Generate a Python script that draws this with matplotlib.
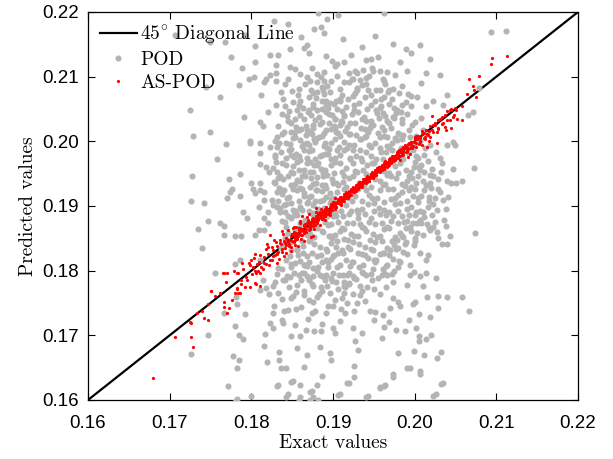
import numpy as np
import matplotlib
matplotlib.use("Agg")
import matplotlib.pyplot as plt

# ---------------- data (exact, predicted) ----------------
axis_limits = [0.16, 0.22]
tick_values = [0.16, 0.17, 0.18, 0.19, 0.20, 0.21, 0.22]
tick_labels = ["0.16", "0.17", "0.18", "0.19", "0.20", "0.21", "0.22"]

pod_upper = [
    (0.1707,0.2164),(0.1749,0.2154),(0.1768,0.2153),(0.1804,0.2147),(0.1823,0.2133),(0.1833,0.2134),
    (0.1847,0.2143),(0.1864,0.2144),(0.1868,0.2149),(0.1877,0.2173),(0.1885,0.2177),(0.1889,0.2168),
    (0.1871,0.2136),(0.1892,0.2132),(0.1905,0.2119),(0.1830,0.2118),(0.1847,0.2115),(0.1830,0.2106),
    (0.1830,0.2094),(0.1823,0.2102),(0.1818,0.2097),(0.1816,0.2091),(0.1803,0.2099),(0.1797,0.2097),
    (0.1785,0.2087),(0.1872,0.2094),(0.1880,0.2092),(0.1885,0.2099),(0.1889,0.2107),(0.1886,0.2084),
    (0.1888,0.2080),(0.1875,0.2074),(0.1860,0.2062),(0.1858,0.2056),(0.1875,0.2058),(0.1887,0.2062),
    (0.1892,0.2062),(0.1880,0.2048),(0.1894,0.2051),(0.1904,0.2063),(0.1870,0.2048),(0.1873,0.2041),
    (0.1895,0.2042),(0.1902,0.2035),(0.1830,0.2056),(0.1820,0.2046),(0.1844,0.2039),(0.1791,0.2038),
    (0.1725,0.2049),(0.1811,0.2030),(0.1814,0.2023),(0.1831,0.2007),(0.1840,0.2014),(0.1848,0.2015),
    (0.1853,0.2014),(0.1858,0.2017),(0.1867,0.2024),(0.1868,0.2017),(0.1875,0.2020),(0.1880,0.2005),
    (0.1892,0.2017),(0.1902,0.2020),(0.1904,0.2014),(0.1728,0.2008),(0.1829,0.2000),(0.1798,0.2000),
    (0.1882,0.2198),
    (0.1963,0.2198),(0.2094,0.2169),(0.2112,0.2170),(0.2006,0.2149),(0.1995,0.2137),(0.1955,0.2130),
    (0.1946,0.2127),(0.1941,0.2126),(0.1913,0.2123),(0.1982,0.2122),(0.1937,0.2110),(0.1929,0.2106),
    (0.1957,0.2109),(0.1966,0.2107),(0.2014,0.2105),(0.1925,0.2096),(0.1920,0.2091),(0.1940,0.2098),
    (0.1935,0.2087),(0.1929,0.2082),(0.1927,0.2075),(0.1943,0.2079),(0.1953,0.2080),(0.1964,0.2088),
    (0.1968,0.2080),(0.1974,0.2081),(0.1981,0.2075),(0.1963,0.2069),(0.1996,0.2070),(0.2003,0.2069),
    (0.2040,0.2071),(0.1909,0.2063),(0.1968,0.2058),(0.1957,0.2052),(0.1984,0.2056),(0.2014,0.2055),
    (0.1926,0.2048),(0.1914,0.2041),(0.1954,0.2044),(0.1977,0.2044),(0.1983,0.2045),(0.1936,0.2034),
    (0.1966,0.2031),(0.1975,0.2036),(0.2079,0.2082),(0.2071,0.2045),(0.2065,0.2040),(0.1949,0.2025),
    (0.1960,0.2022),(0.1945,0.2020),(0.1917,0.2022),(0.1911,0.2030),(0.1919,0.2012),(0.1941,0.2009),
    (0.1933,0.2004),(0.1966,0.2007),(0.1976,0.2005),(0.1986,0.2010),(0.2002,0.2009),(0.2047,0.1999),
]

pod_middle = [
    (0.1727,0.1947),(0.1726,0.1907),(0.1742,0.1905),(0.1747,0.1877),(0.1735,0.1865),(0.1739,0.1835),
    (0.1762,0.1873),(0.1767,0.1869),(0.1766,0.1855),(0.1780,0.1853),(0.1770,0.1912),(0.1774,0.1921),
    (0.1776,0.1926),(0.1773,0.1941),(0.1786,0.1949),(0.1786,0.1915),(0.1790,0.1890),(0.1795,0.1881),
    (0.1800,0.1936),(0.1802,0.1927),(0.1805,0.1920),(0.1811,0.1936),(0.1811,0.1925),(0.1798,0.1997),
    (0.1811,0.1997),(0.1811,0.1982),(0.1811,0.1965),(0.1818,0.1961),(0.1823,0.1991),(0.1829,0.1979),
    (0.1834,0.1998),(0.1847,0.1996),(0.1822,0.1952),(0.1829,0.1935),(0.1835,0.1926),(0.1840,0.1924),
    (0.1833,0.1943),(0.1815,0.1921),(0.1815,0.1910),(0.1825,0.1910),(0.1826,0.1902),(0.1809,0.1899),
    (0.1820,0.1891),(0.1831,0.1899),(0.1840,0.1902),(0.1835,0.1891),(0.1816,0.1881),(0.1821,0.1873),
    (0.1809,0.1863),(0.1805,0.1855),(0.1815,0.1863),(0.1787,0.1853),(0.1786,0.1816),(0.1780,0.1811),
    (0.1811,0.1816),(0.1849,0.1979),(0.1855,0.1981),(0.1860,0.1971),(0.1868,0.1966),(0.1851,0.1951),
    (0.1856,0.1940),(0.1864,0.1948),(0.1872,0.1953),(0.1880,0.1945),(0.1888,0.1951),(0.1880,0.1963),
    (0.1886,0.1979),(0.1894,0.1981),(0.1905,0.1987),(0.1868,0.1997),(0.1878,0.1999),(0.1890,0.1997),
    (0.1856,0.1925),(0.1864,0.1920),(0.1872,0.1930),(0.1880,0.1925),(0.1890,0.1933),(0.1900,0.1935),
    (0.1896,0.1920),(0.1888,0.1909),(0.1878,0.1907),(0.1868,0.1904),(0.1860,0.1899),(0.1851,0.1894),
    (0.1845,0.1884),(0.1841,0.1876),(0.1876,0.1889),(0.1894,0.1871),(0.1900,0.1884),(0.1888,0.1860),
    (0.1898,0.1853),(0.1904,0.1837),(0.1900,0.1822),(0.1892,0.1816),(0.1880,0.1822),(0.1868,0.1822),
    (0.1864,0.1809),(0.1882,0.1806),(0.1833,0.1804),(0.1849,0.1811),(0.1856,0.1832),(0.1872,0.1847),
    (0.2073,0.1959),(0.2058,0.1938),(0.2051,0.1935),(0.2044,0.1935),(0.2039,0.1938),(0.2047,0.1957),
    (0.2031,0.1922),(0.2041,0.1914),(0.2035,0.1910),(0.2019,0.1935),(0.2018,0.1914),(0.2005,0.1961),
    (0.1999,0.1960),(0.2002,0.1935),(0.1996,0.1930),(0.2027,0.1894),(0.2038,0.1895),(0.2021,0.1886),
    (0.2002,0.1891),(0.2007,0.1878),(0.2003,0.1873),(0.1990,0.1877),(0.2019,0.1863),(0.2036,0.1878),
    (0.2038,0.1869),(0.2043,0.1853),(0.2027,0.1860),(0.2029,0.1850),(0.2034,0.1842),(0.2040,0.1842),
    (0.2074,0.1859),(0.2000,0.1850),(0.1984,0.1853),(0.1978,0.1848),(0.2007,0.1827),(0.2016,0.1824),
    (0.2014,0.1816),(0.1994,0.1809),(0.1980,0.1835),(0.1970,0.1832),(0.1961,0.1828),(0.1950,0.1816),
    (0.1966,0.1809),(0.1980,0.1806),(0.2039,0.1994),(0.2049,0.1994),
]

pod_lower = [
    (0.1917,0.1793),(0.1925,0.1791),(0.1913,0.1783),(0.1919,0.1780),(0.1915,0.1775),(0.1937,0.1797),
    (0.1960,0.1793),(0.1966,0.1793),(0.1972,0.1795),(0.1973,0.1783),(0.1994,0.1793),(0.1999,0.1798),
    (0.2006,0.1792),(0.2014,0.1796),(0.2026,0.1788),(0.2010,0.1776),(0.1991,0.1778),(0.1965,0.1774),
    (0.1950,0.1771),(0.1935,0.1769),(0.1933,0.1762),(0.1958,0.1764),(0.1974,0.1757),(0.1980,0.1752),
    (0.1982,0.1745),(0.1998,0.1749),(0.2000,0.1752),(0.2015,0.1760),(0.2029,0.1761),(0.2039,0.1760),
    (0.2058,0.1759),(0.2028,0.1743),(0.2066,0.1737),(0.1970,0.1743),(0.1929,0.1750),(0.1917,0.1750),
    (0.1915,0.1734),(0.1926,0.1737),(0.1945,0.1738),(0.1951,0.1736),(0.1961,0.1732),(0.1950,0.1724),
    (0.1968,0.1720),(0.1962,0.1713),(0.1993,0.1724),(0.2005,0.1733),(0.2019,0.1729),(0.2002,0.1711),
    (0.1988,0.1707),(0.1977,0.1708),(0.2005,0.1699),(0.2005,0.1691),(0.2014,0.1695),(0.2020,0.1700),
    (0.1925,0.1712),(0.1936,0.1704),(0.1927,0.1691),(0.1960,0.1696),(0.1931,0.1677),(0.1979,0.1673),
    (0.1999,0.1676),(0.2012,0.1669),(0.2027,0.1665),(0.2032,0.1675),(0.1926,0.1653),(0.1990,0.1650),
    (0.1994,0.1649),(0.2007,0.1645),(0.2006,0.1640),(0.1974,0.1640),(0.1974,0.1635),(0.1926,0.1636),
    (0.1920,0.1627),(0.1964,0.1623),(0.1958,0.1620),(0.2035,0.1626),(0.1943,0.1606),(0.2026,0.1609),
    (0.1909,0.1610),
    (0.1756,0.1796),(0.1781,0.1760),(0.1783,0.1748),(0.1766,0.1735),(0.1792,0.1733),(0.1747,0.1700),
    (0.1780,0.1714),(0.1785,0.1700),(0.1790,0.1695),(0.1726,0.1671),(0.1777,0.1668),(0.1785,0.1662),
    (0.1783,0.1649),(0.1771,0.1622),(0.1782,0.1601),(0.1800,0.1606),(0.1814,0.1786),(0.1811,0.1770),
    (0.1818,0.1773),(0.1826,0.1735),(0.1840,0.1737),(0.1823,0.1719),(0.1827,0.1712),(0.1839,0.1719),
    (0.1817,0.1702),(0.1815,0.1683),(0.1819,0.1659),(0.1834,0.1675),(0.1834,0.1662),(0.1836,0.1649),
    (0.1843,0.1649),(0.1833,0.1623),(0.1851,0.1629),(0.1859,0.1623),(0.1845,0.1609),(0.1860,0.1605),
    (0.1874,0.1614),(0.1880,0.1623),(0.1875,0.1605),(0.1886,0.1637),(0.1864,0.1651),(0.1868,0.1670),
    (0.1856,0.1680),(0.1849,0.1699),(0.1859,0.1699),(0.1867,0.1709),(0.1877,0.1707),(0.1885,0.1707),
    (0.1884,0.1682),(0.1896,0.1673),(0.1898,0.1662),(0.1900,0.1711),(0.1902,0.1704),(0.1892,0.1735),
    (0.1874,0.1735),(0.1900,0.1745),(0.1864,0.1762),(0.1851,0.1761),(0.1883,0.1764),(0.1855,0.1740),
    (0.1876,0.1752),(0.1839,0.1786),(0.1847,0.1790),(0.1858,0.1793),(0.1868,0.1791),(0.1875,0.1792),
    (0.1887,0.1791),(0.1893,0.1776),(0.1900,0.1796),(0.1904,0.1783),(0.1864,0.1796),(0.1874,0.1780),
    (0.1780,0.1597),(0.1831,0.1621),(0.1842,0.1604),(0.1849,0.1628),(0.1858,0.1600),(0.1872,0.1600),
    (0.1872,0.1613),(0.1882,0.1600),(0.1906,0.1608),(0.1917,0.1626),(0.1941,0.1604),(0.1957,0.1618),
    (0.1962,0.1622),(0.2023,0.1606),(0.2032,0.1625),
]

pod_center = [
    (0.1863,0.2052),(0.1879,0.2067),(0.1896,0.2059),(0.1908,0.2065),(0.1916,0.2053),(0.1932,0.2060),
    (0.1947,0.2056),(0.1959,0.2066),(0.1924,0.2070),(0.1886,0.2050),
    (0.1854,0.2034),(0.1869,0.2046),(0.1883,0.2038),(0.1899,0.2040),(0.1910,0.2032),(0.1923,0.2043),
    (0.1938,0.2037),(0.1953,0.2049),(0.1964,0.2039),(0.1978,0.2048),(0.1846,0.2047),(0.1905,0.2050),
    (0.1848,0.2028),(0.1861,0.2019),(0.1876,0.2026),(0.1889,0.2013),(0.1901,0.2024),(0.1915,0.2016),
    (0.1927,0.2029),(0.1939,0.2019),(0.1955,0.2013),(0.1971,0.2021),(0.1984,0.2028),(0.1993,0.2018),
    (0.1895,0.2029),
    (0.1859,0.2002),(0.1871,0.1994),(0.1883,0.2006),(0.1897,0.1998),(0.1909,0.2009),(0.1920,0.1995),
    (0.1934,0.2003),(0.1946,0.1991),(0.1958,0.2006),(0.1972,0.1997),(0.1985,0.2004),(0.1999,0.1996),
    (0.1867,0.2010),(0.1917,0.1989),
    (0.1836,0.1984),(0.1852,0.1976),(0.1864,0.1987),(0.1878,0.1973),(0.1890,0.1981),(0.1903,0.1975),
    (0.1914,0.1986),(0.1928,0.1978),(0.1941,0.1984),(0.1953,0.1972),(0.1965,0.1983),(0.1979,0.1976),
    (0.1992,0.1982),(0.2004,0.1974),(0.1936,0.1969),
    (0.1843,0.1964),(0.1858,0.1955),(0.1872,0.1968),(0.1885,0.1957),(0.1898,0.1964),(0.1911,0.1953),
    (0.1925,0.1966),(0.1937,0.1956),(0.1950,0.1967),(0.1963,0.1954),(0.1976,0.1962),(0.1989,0.1956),
    (0.2001,0.1968),(0.2012,0.1953),(0.1832,0.1952),
    (0.1839,0.1941),(0.1853,0.1934),(0.1866,0.1946),(0.1879,0.1936),(0.1893,0.1948),(0.1906,0.1933),
    (0.1919,0.1944),(0.1932,0.1935),(0.1945,0.1947),(0.1958,0.1939),(0.1971,0.1946),(0.1984,0.1934),
    (0.1997,0.1943),(0.2010,0.1938),(0.2023,0.1946),
    (0.1831,0.1922),(0.1846,0.1914),(0.1859,0.1928),(0.1873,0.1916),(0.1887,0.1923),(0.1901,0.1912),
    (0.1914,0.1927),(0.1927,0.1915),(0.1940,0.1924),(0.1954,0.1913),(0.1967,0.1926),(0.1980,0.1917),
    (0.1993,0.1924),(0.2008,0.1916),(0.2020,0.1928),
    (0.1842,0.1903),(0.1855,0.1892),(0.1869,0.1906),(0.1882,0.1895),(0.1896,0.1904),(0.1910,0.1893),
    (0.1923,0.1907),(0.1936,0.1896),(0.1950,0.1905),(0.1963,0.1894),(0.1976,0.1903),(0.1990,0.1896),
    (0.2004,0.1906),(0.2016,0.1899),(0.1930,0.1889),
    (0.1849,0.1882),(0.1862,0.1874),(0.1876,0.1886),(0.1890,0.1876),(0.1904,0.1884),(0.1917,0.1873),
    (0.1931,0.1881),(0.1944,0.1875),(0.1957,0.1887),(0.1971,0.1877),(0.1984,0.1884),(0.1998,0.1873),
    (0.2012,0.1883),(0.2025,0.1876),
    (0.1854,0.1863),(0.1868,0.1855),(0.1881,0.1866),(0.1895,0.1854),(0.1908,0.1862),(0.1922,0.1856),
    (0.1935,0.1868),(0.1949,0.1857),(0.1962,0.1864),(0.1976,0.1852),(0.1989,0.1866),(0.2003,0.1858),
    (0.2018,0.1866),(0.1914,0.1849),
    (0.1840,0.1842),(0.1856,0.1834),(0.1870,0.1846),(0.1884,0.1836),(0.1897,0.1843),(0.1911,0.1832),
    (0.1925,0.1845),(0.1939,0.1837),(0.1952,0.1844),(0.1966,0.1835),(0.1988,0.1841),(0.1999,0.1839),
    (0.1847,0.1823),(0.1860,0.1815),(0.1874,0.1827),(0.1887,0.1814),(0.1901,0.1824),(0.1916,0.1816),
    (0.1930,0.1828),(0.1943,0.1819),(0.1957,0.1826),(0.1973,0.1818),(0.1986,0.1829),
    (0.1838,0.1802),(0.1852,0.1796),(0.1866,0.1808),(0.1880,0.1799),(0.1894,0.1805),(0.1907,0.1794),
    (0.1921,0.1807),(0.1936,0.1798),(0.1949,0.1803),(0.1963,0.1796),
    (0.1829,0.1783),(0.1846,0.1774),(0.1861,0.1786),(0.1875,0.1776),(0.1890,0.1785),(0.1906,0.1772),
    (0.1920,0.1781),(0.1933,0.1777),(0.1948,0.1786),
    (0.1822,0.1764),(0.1838,0.1756),(0.1855,0.1767),(0.1870,0.1755),(0.1887,0.1768),(0.1903,0.1754),
    (0.1914,0.1766),(0.1939,0.1753),
    (0.1850,0.2078),(0.1866,0.2089),(0.1881,0.2076),(0.1897,0.2093),(0.1909,0.2081),(0.1919,0.2106),
    (0.1933,0.2095),(0.1949,0.2108),(0.1961,0.2096),(0.1976,0.2102),(0.1859,0.2104),(0.1874,0.2113),
    (0.1899,0.2125),(0.1922,0.2134),(0.1936,0.2146),(0.1912,0.2158),(0.1951,0.2163),(0.1893,0.2189),
    (0.1906,0.2196),(0.1845,0.2182),(0.1974,0.2151),(0.1989,0.2143),(0.2019,0.2128),(0.2031,0.2102),
    (0.1991,0.2109),(0.2008,0.2090),(0.2022,0.2063),(0.2035,0.2056),(0.1812,0.2071),(0.1804,0.2122),
    (0.1788,0.2114),(0.1775,0.2131),(0.1762,0.2068),(0.1749,0.2015),(0.1758,0.1973),(0.1769,0.1996),
    (0.1744,0.2084),(0.1792,0.2165),(0.1828,0.2186),(0.1861,0.2161),
]

pod_core = [
    (0.1853,0.2112),(0.1881,0.2104),(0.1902,0.2117),(0.1927,0.2109),(0.1948,0.2113),
    (0.1841,0.2088),(0.1858,0.2081),(0.1893,0.2086),(0.1914,0.2092),(0.1941,0.2089),(0.1958,0.2079),
    (0.1985,0.2086),
    (0.1839,0.2066),(0.1851,0.2061),(0.1870,0.2069),(0.1889,0.2073),(0.1901,0.2058),(0.1918,0.2066),
    (0.1939,0.2068),(0.1951,0.2062),(0.1972,0.2066),(0.1989,0.2061),
    (0.1838,0.2043),(0.1859,0.2040),(0.1878,0.2033),(0.1892,0.2046),(0.1913,0.2039),(0.1930,0.2045),
    (0.1946,0.2032),(0.1961,0.2044),(0.1973,0.2038),(0.1990,0.2043),(0.2008,0.2036),
    (0.1833,0.2023),(0.1855,0.2022),(0.1872,0.2015),(0.1884,0.2027),(0.1897,0.2019),(0.1908,0.2026),
    (0.1921,0.2012),(0.1934,0.2021),(0.1947,0.2026),(0.1962,0.2017),(0.1979,0.2013),(0.1997,0.2025),
    (0.2010,0.2018),
    (0.1842,0.1998),(0.1853,0.2007),(0.1865,0.1996),(0.1877,0.2003),(0.1889,0.1993),(0.1902,0.2004),
    (0.1913,0.1999),(0.1926,0.1994),(0.1939,0.2007),(0.1951,0.1998),(0.1966,0.1993),(0.1978,0.2002),
    (0.1991,0.1991),(0.2006,0.2001),(0.2019,0.1995),
    (0.1829,0.1976),(0.1846,0.1987),(0.1858,0.1978),(0.1871,0.1985),(0.1884,0.1977),(0.1895,0.1988),
    (0.1908,0.1979),(0.1921,0.1974),(0.1933,0.1986),(0.1947,0.1977),(0.1959,0.1983),(0.1972,0.1986),
    (0.1986,0.1972),(0.1998,0.1986),(0.2011,0.1979),(0.2026,0.1983),
    (0.1826,0.1958),(0.1838,0.1967),(0.1851,0.1962),(0.1864,0.1956),(0.1877,0.1963),(0.1890,0.1955),
    (0.1903,0.1968),(0.1916,0.1959),(0.1929,0.1953),(0.1942,0.1963),(0.1956,0.1958),(0.1969,0.1951),
    (0.1982,0.1966),(0.1995,0.1953),(0.2008,0.1963),(0.2021,0.1957),(0.2034,0.1966),
    (0.1828,0.1937),(0.1845,0.1946),(0.1860,0.1938),(0.1873,0.1944),(0.1886,0.1933),(0.1899,0.1942),
    (0.1912,0.1937),(0.1925,0.1947),(0.1938,0.1932),(0.1951,0.1941),(0.1964,0.1934),(0.1977,0.1944),
    (0.1991,0.1938),(0.2004,0.1947),(0.2016,0.1933),(0.2029,0.1942),
    (0.1837,0.1918),(0.1851,0.1926),(0.1865,0.1915),(0.1879,0.1924),(0.1892,0.1914),(0.1905,0.1921),
    (0.1918,0.1913),(0.1931,0.1926),(0.1944,0.1917),(0.1958,0.1924),(0.1971,0.1911),(0.1985,0.1922),
    (0.1998,0.1915),(0.2012,0.1925),(0.2025,0.1913),
    (0.1835,0.1897),(0.1848,0.1905),(0.1862,0.1894),(0.1876,0.1902),(0.1889,0.1897),(0.1903,0.1891),
    (0.1916,0.1901),(0.1929,0.1894),(0.1943,0.1903),(0.1956,0.1897),(0.1969,0.1891),(0.1982,0.1905),
    (0.1996,0.1898),(0.2010,0.1891),(0.2022,0.1903),
    (0.1838,0.1877),(0.1852,0.1886),(0.1866,0.1878),(0.1879,0.1871),(0.1893,0.1884),(0.1906,0.1875),
    (0.1920,0.1887),(0.1933,0.1872),(0.1946,0.1881),(0.1960,0.1873),(0.1973,0.1885),(0.1987,0.1876),
    (0.2001,0.1886),(0.2015,0.1872),
    (0.1845,0.1858),(0.1858,0.1866),(0.1872,0.1857),(0.1886,0.1862),(0.1899,0.1851),(0.1913,0.1864),
    (0.1926,0.1853),(0.1941,0.1861),(0.1954,0.1852),(0.1968,0.1866),(0.1982,0.1858),(0.1995,0.1862),
    (0.2010,0.1855),
    (0.1836,0.1835),(0.1849,0.1845),(0.1863,0.1838),(0.1877,0.1842),(0.1891,0.1833),(0.1905,0.1846),
    (0.1918,0.1837),(0.1932,0.1842),(0.1946,0.1834),(0.1960,0.1846),(0.1975,0.1839),(0.1989,0.1844),
    (0.1842,0.1816),(0.1857,0.1824),(0.1871,0.1813),(0.1885,0.1825),(0.1898,0.1818),(0.1912,0.1827),
    (0.1925,0.1814),(0.1939,0.1824),(0.1953,0.1817),(0.1968,0.1825),(0.1981,0.1815),
    (0.1832,0.1795),(0.1848,0.1806),(0.1862,0.1797),(0.1876,0.1804),(0.1891,0.1793),(0.1905,0.1805),
    (0.1919,0.1796),(0.1932,0.1806),(0.1946,0.1795),(0.1961,0.1803),(0.1975,0.1799),
    (0.1826,0.1776),(0.1841,0.1785),(0.1856,0.1778),(0.1870,0.1786),(0.1885,0.1775),(0.1899,0.1784),
    (0.1913,0.1777),(0.1928,0.1787),(0.1942,0.1774),
    (0.1833,0.1766),(0.1849,0.1758),(0.1864,0.1768),(0.1880,0.1759),(0.1896,0.1765),(0.1911,0.1758),
    (0.1925,0.1764),
    (0.1828,0.1746),(0.1845,0.1739),(0.1861,0.1744),(0.1878,0.1737),(0.1894,0.1746),(0.1910,0.1741),
    (0.1837,0.1724),(0.1853,0.1716),(0.1869,0.1726),(0.1886,0.1718),(0.1908,0.1722),
]

pod_fill = [
    (0.1845,0.2097),(0.1868,0.2099),(0.1889,0.2093),(0.1905,0.2101),(0.1923,0.2097),(0.1944,0.2101),
    (0.1963,0.2094),
    (0.1836,0.2077),(0.1857,0.2072),(0.1873,0.2080),(0.1896,0.2076),(0.1911,0.2072),(0.1929,0.2079),
    (0.1946,0.2071),(0.1967,0.2077),(0.1992,0.2073),
    (0.1841,0.2055),(0.1856,0.2049),(0.1875,0.2053),(0.1891,0.2056),(0.1911,0.2047),(0.1926,0.2056),
    (0.1942,0.2050),(0.1959,0.2055),(0.1975,0.2052),(0.1996,0.2054),
    (0.1845,0.2031),(0.1864,0.2035),(0.1887,0.2030),(0.1903,0.2034),(0.1921,0.2028),(0.1941,0.2032),
    (0.1956,0.2036),(0.1969,0.2029),(0.1985,0.2035),(0.2001,0.2030),
    (0.1838,0.2011),(0.1851,0.2005),(0.1874,0.2012),(0.1886,0.2008),(0.1906,0.2013),(0.1928,0.2010),
    (0.1943,0.2014),(0.1962,0.2008),(0.1981,0.2012),(0.1994,0.2007),(0.2015,0.2011),
    (0.1832,0.1992),(0.1848,0.1988),(0.1862,0.1993),(0.1874,0.1987),(0.1893,0.1990),(0.1907,0.1992),
    (0.1924,0.1987),(0.1944,0.1994),(0.1957,0.1989),(0.1968,0.1991),(0.1983,0.1989),(0.2013,0.1990),
    (0.1830,0.1968),(0.1842,0.1974),(0.1856,0.1968),(0.1868,0.1975),(0.1882,0.1967),(0.1897,0.1972),
    (0.1909,0.1966),(0.1921,0.1973),(0.1934,0.1975),(0.1948,0.1967),(0.1961,0.1972),(0.1974,0.1969),
    (0.2002,0.1977),(0.2016,0.1969),(0.2031,0.1974),
    (0.1835,0.1946),(0.1848,0.1952),(0.1862,0.1947),(0.1875,0.1953),(0.1888,0.1946),(0.1901,0.1951),
    (0.1914,0.1946),(0.1927,0.1954),(0.1941,0.1949),(0.1966,0.1948),(0.1980,0.1951),(0.1993,0.1947),
    (0.2006,0.1955),(0.2019,0.1948),(0.2032,0.1952),
    (0.1834,0.1928),(0.1849,0.1933),(0.1862,0.1926),(0.1876,0.1934),(0.1891,0.1928),(0.1904,0.1936),
    (0.1916,0.1929),(0.1947,0.1929),(0.1961,0.1933),(0.1974,0.1926),(0.1988,0.1931),(0.2001,0.1926),
    (0.2014,0.1933),(0.2028,0.1927),
    (0.1833,0.1908),(0.1844,0.1913),(0.1858,0.1908),(0.1871,0.1914),(0.1884,0.1907),(0.1898,0.1911),
    (0.1935,0.1907),(0.1948,0.1912),(0.1962,0.1906),(0.1976,0.1913),(0.1990,0.1907),(0.2004,0.1913),
    (0.2018,0.1908),
    (0.1841,0.1891),(0.1856,0.1886),(0.1870,0.1893),(0.1883,0.1887),(0.1897,0.1889),(0.1912,0.1884),
    (0.1922,0.1892),(0.1939,0.1887),(0.1950,0.1893),(0.1965,0.1886),(0.1979,0.1892),(0.1993,0.1886),
    (0.2006,0.1893),
    (0.1843,0.1868),(0.1859,0.1873),(0.1873,0.1866),(0.1897,0.1872),(0.1911,0.1866),(0.1924,0.1873),
    (0.1938,0.1866),(0.1952,0.1872),(0.1966,0.1868),(0.1980,0.1874),(0.1994,0.1867),(0.2008,0.1873),
    (0.2022,0.1867),
    (0.1841,0.1851),(0.1862,0.1846),(0.1877,0.1852),(0.1903,0.1855),(0.1918,0.1848),(0.1931,0.1853),
    (0.1945,0.1847),(0.1958,0.1853),(0.1972,0.1846),(0.1986,0.1852),(0.2000,0.1846),
    (0.1848,0.1832),(0.1863,0.1828),(0.1893,0.1830),(0.1906,0.1827),(0.1921,0.1833),(0.1935,0.1826),
    (0.1949,0.1832),(0.1963,0.1827),(0.1977,0.1833),(0.1991,0.1826),
    (0.1853,0.1812),(0.1868,0.1807),(0.1894,0.1813),(0.1909,0.1808),(0.1923,0.1814),(0.1937,0.1808),
    (0.1951,0.1813),(0.1965,0.1807),(0.1982,0.1813),
    (0.1844,0.1791),(0.1870,0.1787),(0.1884,0.1793),(0.1898,0.1789),(0.1912,0.1794),(0.1926,0.1789),
    (0.1941,0.1793),(0.1955,0.1788),
]

aspod_tails = [
    (0.1680,0.1634),(0.1707,0.1698),(0.1726,0.1698),(0.1729,0.1682),(0.1725,0.1721),(0.1726,0.1719),
    (0.1742,0.1727),(0.1747,0.1723),(0.1734,0.1735),(0.1739,0.1738),(0.1747,0.1748),(0.1750,0.1769),
    (0.1756,0.1761),(0.1762,0.1766),(0.1766,0.1751),(0.1767,0.1744),(0.1770,0.1735),(0.1773,0.1743),
    (0.1776,0.1755),(0.1780,0.1766),(0.1783,0.1771),(0.1787,0.1779),(0.1792,0.1775),(0.1798,0.1775),
    (0.1795,0.1786),(0.1805,0.1781),(0.1810,0.1776),(0.1806,0.1796),(0.1811,0.1796),(0.1783,0.1796),
    (0.1770,0.1796),(0.1765,0.1796),(0.1784,0.1765),(0.1751,0.1769),(0.1766,0.1796),(0.1769,0.1782),
    (0.1779,0.1800),(0.1784,0.1796),(0.1787,0.1786),(0.1782,0.1773),(0.1786,0.1765),(0.1789,0.1812),
    (0.1800,0.1816),(0.1804,0.1826),(0.1807,0.1811),(0.1806,0.1780),(0.1798,0.1809),(0.1819,0.1842),
    (0.1825,0.1837),(0.1831,0.1827),(0.1834,0.1818),(0.1827,0.1822),(0.1823,0.1855),(0.1841,0.1835),
    (0.1847,0.1847),(0.1835,0.1847),(0.1855,0.1855),(0.1855,0.1868),(0.1862,0.1884),(0.1866,0.1860),
    (0.1872,0.1868),(0.1876,0.1853),(0.1869,0.1878),
    (0.2095,0.2129),(0.2113,0.2132),(0.2094,0.2120),(0.2079,0.2101),(0.2066,0.2096),(0.2072,0.2086),
    (0.2073,0.2080),(0.2064,0.2073),(0.2075,0.2069),(0.2058,0.2055),(0.2051,0.2048),(0.2045,0.2050),
    (0.2039,0.2047),(0.2047,0.2038),(0.2043,0.2033),(0.2052,0.2034),(0.2033,0.2038),(0.2029,0.2033),
    (0.2035,0.2028),(0.2025,0.2025),(0.2028,0.2019),(0.2021,0.2018),(0.2015,0.2012),(0.2019,0.2007),
    (0.2013,0.2007),(0.2006,0.2005),(0.2000,0.2005),(0.1996,0.1999),(0.2017,0.2001),(0.2027,0.1997),
    (0.2015,0.1992),(0.2009,0.1994),(0.2002,0.1992),(0.1981,0.1987),(0.1990,0.1987),(0.1994,0.1981),
    (0.1986,0.1979),(0.1982,0.1971),(0.1992,0.1976),(0.2058,0.2033),(0.2049,0.2051),(0.2043,0.2048),
    (0.2023,0.2025),(0.2037,0.2022),(0.2045,0.2020),(0.2027,0.2014),(0.2038,0.2017),(0.2021,0.2039),
]

aspod_band = [
    (0.1802,0.1805),(0.1805,0.1799),(0.1809,0.1814),(0.1812,0.1806),(0.1815,0.1821),(0.1818,0.1810),
    (0.1820,0.1826),(0.1823,0.1817),(0.1826,0.1832),(0.1829,0.1824),(0.1831,0.1838),(0.1833,0.1829),
    (0.1836,0.1841),(0.1838,0.1833),(0.1840,0.1846),(0.1842,0.1839),(0.1844,0.1849),(0.1846,0.1842),
    (0.1848,0.1853),(0.1850,0.1846),(0.1852,0.1856),(0.1853,0.1850),(0.1855,0.1859),(0.1857,0.1853),
    (0.1859,0.1862),(0.1860,0.1857),(0.1862,0.1865),(0.1864,0.1861),(0.1865,0.1869),(0.1867,0.1864),
    (0.1869,0.1872),(0.1870,0.1868),(0.1872,0.1875),(0.1873,0.1870),(0.1875,0.1878),(0.1876,0.1874),
    (0.1878,0.1880),(0.1879,0.1877),(0.1881,0.1884),(0.1882,0.1879),(0.1884,0.1886),(0.1885,0.1883),
    (0.1887,0.1889),(0.1888,0.1886),(0.1890,0.1892),(0.1891,0.1888),(0.1893,0.1895),(0.1894,0.1892),
    (0.1896,0.1898),(0.1897,0.1895),(0.1899,0.1900),(0.1900,0.1898),(0.1902,0.1904),(0.1903,0.1901),
    (0.1905,0.1906),(0.1906,0.1904),(0.1908,0.1909),(0.1909,0.1907),(0.1911,0.1912),(0.1912,0.1910),
    (0.1914,0.1915),(0.1915,0.1913),(0.1917,0.1918),(0.1918,0.1916),(0.1920,0.1921),(0.1921,0.1919),
    (0.1923,0.1924),(0.1924,0.1922),(0.1926,0.1927),(0.1927,0.1925),(0.1929,0.1930),(0.1930,0.1928),
    (0.1932,0.1933),(0.1933,0.1931),(0.1935,0.1936),(0.1936,0.1934),(0.1938,0.1939),(0.1939,0.1937),
    (0.1941,0.1942),(0.1942,0.1940),(0.1944,0.1945),(0.1945,0.1943),(0.1947,0.1948),(0.1948,0.1946),
    (0.1950,0.1951),(0.1951,0.1949),(0.1953,0.1954),(0.1954,0.1952),(0.1956,0.1957),(0.1957,0.1955),
    (0.1959,0.1960),(0.1960,0.1958),(0.1962,0.1963),(0.1963,0.1961),(0.1965,0.1967),(0.1966,0.1963),
    (0.1968,0.1970),(0.1969,0.1966),(0.1971,0.1973),(0.1972,0.1969),(0.1974,0.1976),(0.1975,0.1972),
    (0.1977,0.1979),(0.1978,0.1975),(0.1980,0.1982),(0.1981,0.1978),(0.1983,0.1986),(0.1984,0.1981),
    (0.1986,0.1989),(0.1987,0.1984),(0.1989,0.1992),(0.1990,0.1987),(0.1992,0.1996),(0.1994,0.1990),
    (0.1996,0.1999),(0.1998,0.1993),(0.2000,0.2003),(0.2002,0.1997),(0.2004,0.2008),(0.2006,0.2001),
    (0.2009,0.2012),(0.2011,0.2005),(0.2014,0.2017),(0.2016,0.2010),(0.2019,0.2023),(0.2022,0.2015),
    (0.2025,0.2029),(0.2028,0.2020),(0.2031,0.2034),(0.2034,0.2027),(0.2037,0.2040),(0.2040,0.2033),
    (0.2044,0.2048),(0.2048,0.2041),
    (0.1841,0.1843),(0.1845,0.1845),(0.1849,0.1848),(0.1854,0.1853),(0.1858,0.1859),(0.1863,0.1862),
    (0.1866,0.1867),(0.1871,0.1870),(0.1874,0.1875),(0.1877,0.1876),(0.1880,0.1881),(0.1883,0.1882),
    (0.1886,0.1887),(0.1889,0.1889),(0.1892,0.1893),(0.1895,0.1894),(0.1898,0.1899),(0.1901,0.1901),
    (0.1904,0.1905),(0.1907,0.1906),(0.1910,0.1911),(0.1913,0.1912),(0.1916,0.1917),(0.1919,0.1919),
    (0.1922,0.1923),(0.1925,0.1925),(0.1928,0.1929),(0.1931,0.1930),(0.1934,0.1935),(0.1937,0.1936),
    (0.1940,0.1941),(0.1943,0.1942),(0.1946,0.1947),(0.1949,0.1949),(0.1952,0.1953),(0.1955,0.1955),
    (0.1958,0.1959),(0.1961,0.1960),(0.1964,0.1965),(0.1967,0.1967),(0.1970,0.1971),(0.1973,0.1973),
    (0.1976,0.1977),(0.1979,0.1980),(0.1982,0.1983),(0.1985,0.1985),(0.1988,0.1989),(0.1991,0.1992),
    (0.1995,0.1995),(0.1999,0.1999),(0.2003,0.2004),(0.2007,0.2006),(0.2012,0.2013),(0.2017,0.2016),
    (0.1830,0.1844),(0.1843,0.1828),(0.1851,0.1866),(0.1861,0.1849),(0.1868,0.1883),(0.1877,0.1865),
    (0.1885,0.1896),(0.1890,0.1879),(0.1821,0.1836),(0.1814,0.1802),(0.1859,0.1873),(0.1849,0.1836),
    (0.1879,0.1891),(0.1896,0.1886),(0.1902,0.1912),(0.1910,0.1901),(0.1839,0.1856),(0.1853,0.1839),
]

aspod_spread = [
    (0.1832,0.1826),(0.1835,0.1843),(0.1838,0.1829),(0.1843,0.1851),(0.1846,0.1838),(0.1850,0.1856),
    (0.1852,0.1845),(0.1856,0.1849),(0.1858,0.1866),(0.1861,0.1855),(0.1864,0.1870),(0.1867,0.1860),
    (0.1869,0.1876),(0.1872,0.1866),(0.1874,0.1880),(0.1876,0.1869),(0.1879,0.1885),(0.1881,0.1875),
    (0.1883,0.1889),(0.1886,0.1880),(0.1888,0.1893),(0.1890,0.1884),(0.1892,0.1897),(0.1895,0.1889),
    (0.1897,0.1902),(0.1899,0.1894),(0.1901,0.1906),(0.1904,0.1898),(0.1906,0.1910),(0.1908,0.1903),
    (0.1910,0.1914),(0.1913,0.1908),(0.1915,0.1919),(0.1917,0.1912),(0.1919,0.1923),(0.1922,0.1917),
    (0.1924,0.1928),(0.1926,0.1921),(0.1928,0.1932),(0.1931,0.1926),(0.1933,0.1937),(0.1935,0.1930),
    (0.1937,0.1941),(0.1940,0.1935),(0.1942,0.1946),(0.1944,0.1939),(0.1946,0.1950),(0.1949,0.1944),
    (0.1951,0.1955),(0.1953,0.1948),(0.1955,0.1959),(0.1958,0.1953),(0.1960,0.1964),(0.1962,0.1957),
    (0.1964,0.1968),(0.1967,0.1962),(0.1969,0.1973),(0.1971,0.1966),(0.1973,0.1977),(0.1976,0.1971),
    (0.1978,0.1983),(0.1980,0.1975),(0.1983,0.1988),(0.1985,0.1979),(0.1988,0.1993),(0.1991,0.1984),
    (0.1993,0.1998),(0.1997,0.1990),(0.2001,0.2007),(0.2005,0.1996),(0.2009,0.2016),(0.2013,0.2004),
    (0.1790,0.1802),(0.1793,0.1790),(0.1797,0.1812),(0.1801,0.1795),(0.1803,0.1819),(0.1808,0.1800),
    (0.1811,0.1825),(0.1816,0.1812),(0.1818,0.1833),(0.1822,0.1808),(0.1825,0.1816),(0.1828,0.1848),
    (0.1832,0.1812),(0.1837,0.1861),(0.1840,0.1822),(0.1845,0.1863),(0.1848,0.1831),(0.1852,0.1868),
    (0.1857,0.1838),(0.1860,0.1877),(0.1864,0.1846),(0.1870,0.1888),(0.1873,0.1852),(0.1879,0.1897),
    (0.1884,0.1870),
]

aspod_thick = [
    (0.1850,0.1857),(0.1854,0.1847),(0.1858,0.1863),(0.1862,0.1855),(0.1866,0.1872),(0.1870,0.1863),
    (0.1874,0.1879),(0.1878,0.1871),(0.1882,0.1888),(0.1886,0.1880),(0.1890,0.1896),(0.1894,0.1887),
    (0.1898,0.1903),(0.1902,0.1896),(0.1906,0.1911),(0.1910,0.1905),(0.1914,0.1919),(0.1918,0.1913),
    (0.1922,0.1926),(0.1926,0.1921),(0.1930,0.1934),(0.1934,0.1929),(0.1938,0.1942),(0.1942,0.1937),
    (0.1946,0.1949),(0.1950,0.1946),(0.1954,0.1958),(0.1958,0.1954),(0.1962,0.1966),(0.1966,0.1961),
    (0.1970,0.1974),(0.1974,0.1969),(0.1978,0.1981),(0.1982,0.1978),(0.1986,0.1991),(0.1990,0.1985),
    (0.1994,0.1998),(0.1998,0.1993),(0.2002,0.2008),(0.2006,0.1999),
    (0.1852,0.1860),(0.1856,0.1852),(0.1860,0.1866),(0.1864,0.1858),(0.1868,0.1874),(0.1872,0.1865),
    (0.1876,0.1882),(0.1880,0.1873),(0.1884,0.1891),(0.1888,0.1882),(0.1892,0.1899),(0.1896,0.1890),
    (0.1900,0.1906),(0.1904,0.1899),(0.1908,0.1914),(0.1912,0.1907),(0.1916,0.1921),(0.1920,0.1915),
    (0.1924,0.1929),(0.1928,0.1923),(0.1932,0.1937),(0.1936,0.1931),(0.1940,0.1944),(0.1944,0.1939),
    (0.1948,0.1952),(0.1952,0.1948),(0.1956,0.1961),(0.1960,0.1956),(0.1964,0.1969),(0.1968,0.1963),
    (0.1972,0.1977),(0.1976,0.1972),(0.1980,0.1985),(0.1984,0.1980),(0.1988,0.1994),(0.1992,0.1988),
]

# ---------------- figure ----------------
plt.rcParams["mathtext.fontset"] = "cm"
tick_font = "Liberation Sans"
label_font = "cmr10"

fig = plt.figure(figsize=(6.13, 4.59), dpi=100)
ax = fig.add_axes([88/613, 59/459, 490/613, 388/459])

line_h, = ax.plot(axis_limits, axis_limits, color="black", lw=1.6, zorder=2,
                  label=r"45$^{\circ}$ Diagonal Line")

pod_all = pod_upper + pod_middle + pod_lower + pod_center + pod_core + pod_fill
pod_x = [p[0] for p in pod_all]
pod_y = [p[1] for p in pod_all]
pod_h, = ax.plot(pod_x, pod_y, ls="none", marker="o", ms=4.4, mec="none",
                 color="#b4b4b4", zorder=3, label="POD")

as_all = aspod_tails + aspod_band + aspod_spread + aspod_thick
as_x = [p[0] for p in as_all]
as_y = [p[1] for p in as_all]
as_h, = ax.plot(as_x, as_y, ls="none", marker="o", ms=2.3, mec="none",
                color="#ff0000", zorder=4, label="AS-POD")

ax.set_xlim(axis_limits)
ax.set_ylim(axis_limits)
ax.set_xticks(tick_values)
ax.set_yticks(tick_values)
ax.set_xticklabels(tick_labels, fontsize=13.5, family=tick_font)
ax.set_yticklabels(tick_labels, fontsize=13.5, family=tick_font)
ax.tick_params(direction="in", length=5, width=0.8, top=True, right=True)
ax.tick_params(axis="x", pad=10.5)
ax.tick_params(axis="y", pad=6.5)
for s in ax.spines.values():
    s.set_linewidth(0.9)

ax.set_xlabel("Exact values", fontsize=14, family=label_font, labelpad=2)
ax.set_ylabel("Predicted values", fontsize=14, family=label_font, labelpad=4)

leg = ax.legend(handles=[line_h, pod_h, as_h], loc="upper left", frameon=False,
                prop={"family": label_font, "size": 14}, handlelength=1.9,
                handletextpad=0.2, labelspacing=0.25, borderaxespad=0.2,
                markerscale=1.0)

fig.savefig("out.png", dpi=100)
